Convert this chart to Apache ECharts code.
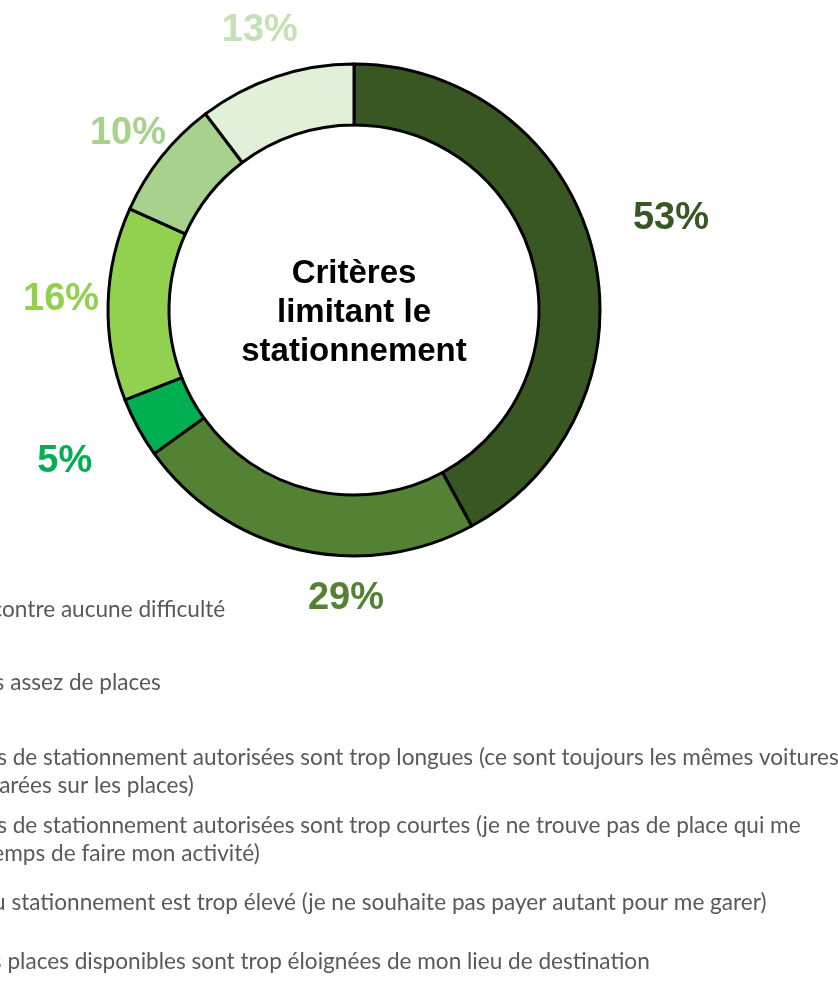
<!DOCTYPE html>
<html>
<head>
<meta charset="utf-8">
<script src="https://cdn.jsdelivr.net/npm/echarts@6/dist/echarts.min.js"></script>
<style>
html,body{margin:0;padding:0;background:#fff;}
#chart{width:838px;height:989px;}
</style>
</head>
<body>
<div id="chart"></div>
<script>
// ---- data ----
const categories = [
  "Je ne rencontre aucune difficulté",
  "Il n'y a pas assez de places",
  "Les durées de stationnement autorisées sont trop longues (ce sont toujours les mêmes voitures qui sont garées sur les places)",
  "Les durées de stationnement autorisées sont trop courtes (je ne trouve pas de place qui me laisse le temps de faire mon activité)",
  "Le coût du stationnement est trop élevé (je ne souhaite pas payer autant pour me garer)",
  "Les seules places disponibles sont trop éloignées de mon lieu de destination"
];
const values = [53, 29, 5, 16, 10, 13];
const centerTitle = "Critères\nlimitant le\nstationnement";

// ---- styles ----
const sliceColors = ["#385723", "#548235", "#00B050", "#92D050", "#A9D18E", "#E2F0D9"];
const labelColors = ["#385723", "#548235", "#00B050", "#92D050", "#A9D18E", "#C5E0B4"];
const CX = 354, CY = 310;
const labelNudge = [[64, -27], [50, 34], [-60, 27], [-32, -4], [-22, -14], [-11, -32]];
const wrapBefore = { 2: " qui sont", 3: " laisse" };
const LEG_X0 = -99;
const legendTops = [596, 669, 744, 812, 889, 948];

const chart = echarts.init(document.getElementById('chart'));

const legends = categories.map((name, i) => ({
  data: [name],
  orient: 'vertical',
  left: LEG_X0 - 19,
  top: legendTops[i],
  padding: 0,
  itemWidth: 14,
  itemHeight: 14,
  icon: 'rect',
  selectedMode: false,
  formatter: function (n) {
    const w = wrapBefore[i];
    if (w && n.indexOf(w) >= 0) {
      const k = n.indexOf(w);
      return n.slice(0, k) + "\n" + n.slice(k + 1);
    }
    return n;
  },
  textStyle: { fontFamily: 'Lato', fontSize: 22.6, color: '#595959', lineHeight: 28 }
}));

chart.setOption({
  animation: false,
  legend: legends,
  graphic: [{
    type: 'text',
    x: CX, y: CY + 3,
    style: {
      text: centerTitle,
      align: 'center', verticalAlign: 'middle',
      font: 'bold 33px "Liberation Sans", Arial, sans-serif',
      lineHeight: 39,
      fill: '#000'
    }
  }],
  series: [{
    type: 'pie',
    center: [CX, CY],
    radius: [185, 246],
    startAngle: 90,
    clockwise: true,
    avoidLabelOverlap: false,
    emphasis: { disabled: true },
    itemStyle: { borderColor: '#000', borderWidth: 3 },
    label: {
      show: true,
      position: 'outside',
      formatter: '{c}%',
      fontFamily: '"Liberation Sans", Arial, sans-serif',
      fontSize: 38,
      fontWeight: 'bold'
    },
    labelLine: { show: false, length: 15, length2: 0 },
    labelLayout: function (p) {
      const i = p.dataIndex;
      const r = p.labelRect;
      const half = r.width / 2 + 5;
      const isRight = (r.x + r.width / 2) > CX;
      const dx = (isRight ? -half : half) + labelNudge[i][0];
      return { dx: dx, dy: labelNudge[i][1] };
    },
    data: categories.map((name, i) => ({
      name: name,
      value: values[i],
      itemStyle: { color: sliceColors[i] },
      label: { color: labelColors[i] }
    }))
  }]
});
</script>
</body>
</html>
